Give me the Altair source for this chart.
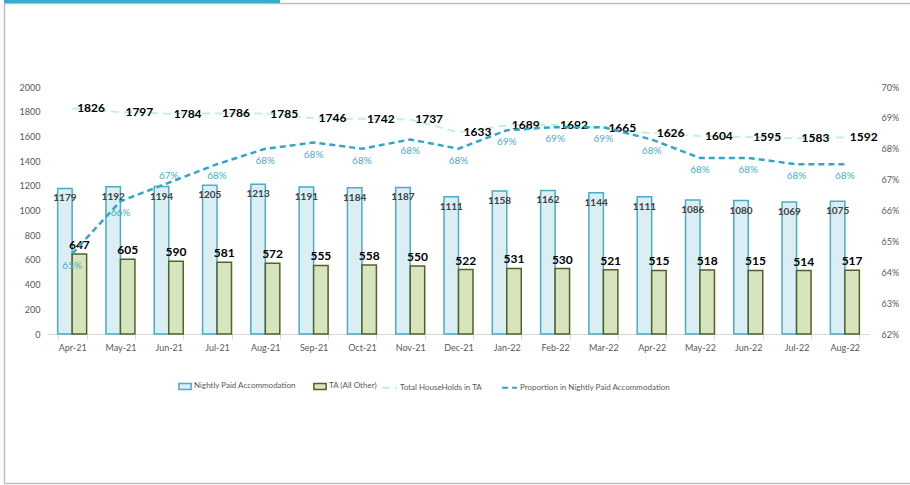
import altair as alt
import pandas as pd

months = ["Apr-21", "May-21", "Jun-21", "Jul-21", "Aug-21", "Sep-21", "Oct-21", "Nov-21",
          "Dec-21", "Jan-22", "Feb-22", "Mar-22", "Apr-22", "May-22", "Jun-22", "Jul-22", "Aug-22"]
nightly = [1179, 1192, 1194, 1205, 1213, 1191, 1184, 1187, 1111, 1158, 1162, 1144, 1111, 1086, 1080, 1069, 1075]
ta_other = [647, 605, 590, 581, 572, 555, 558, 550, 522, 531, 530, 521, 515, 518, 515, 514, 517]
total = [1826, 1797, 1784, 1786, 1785, 1746, 1742, 1737, 1633, 1689, 1692, 1665, 1626, 1604, 1595, 1583, 1592]
proportion = [0.646, 0.663, 0.669, 0.675, 0.680, 0.682, 0.680, 0.683, 0.680, 0.686, 0.687, 0.687,
              0.683, 0.677, 0.677, 0.675, 0.675]

S_N = "Nightly Paid Accommodation"
S_T = "TA (All Other)"
L_T = "Total HouseHolds in TA"
L_P = "Proportion in Nightly Paid Accommodation"

FONT = "Lato"
n = len(months)
bars_df = pd.DataFrame({"Month": months * 2, "Series": [S_N] * n + [S_T] * n, "Value": nightly + ta_other})
total_df = pd.DataFrame({"Month": months, "Value": total, "Line": [L_T] * n})
prop_df = pd.DataFrame({"Month": months, "Prop": proportion, "Line": [L_P] * n})
blank = pd.DataFrame({"k": [0]})

x_enc = alt.X("Month:N", sort=months,
              scale=alt.Scale(paddingInner=0.4, paddingOuter=0.2),
              axis=alt.Axis(title=None, labelAngle=0, tickBand="extent", domainColor="#d9d9d9",
                            tickColor="#d9d9d9", tickSize=5, labelColor="#595959", labelFontSize=9,
                            labelPadding=4, labelFont=FONT))
xo_enc = alt.XOffset("Series:N", sort=[S_N, S_T], scale=alt.Scale(paddingInner=0, paddingOuter=0))
left_axis = alt.Axis(title=None, values=list(range(0, 2001, 200)), format="d", grid=False,
                     domain=False, ticks=False, labelColor="#595959", labelFontSize=9,
                     labelPadding=8, labelFont=FONT)
y_left = alt.Y("Value:Q", scale=alt.Scale(domain=[0, 2000], nice=False), axis=left_axis)

bar_legend = alt.Legend(title=None, orient="none", legendX=130, legendY=292, direction="horizontal",
                        symbolType="M-1,-0.5H1V0.5H-1Z", symbolSize=150, symbolStrokeWidth=1.5,
                        labelFontSize=8, labelColor="#595959", labelFont=FONT, columnPadding=14,
                        labelLimit=400, labelOffset=2)
line_legend = alt.Legend(title=None, orient="none", legendX=333, legendY=292, direction="horizontal",
                         symbolType="stroke", symbolSize=220, symbolStrokeWidth=2,
                         labelFontSize=8, labelColor="#595959", labelFont=FONT, columnPadding=16,
                         labelLimit=400, labelOffset=2)

bars = alt.Chart(bars_df).mark_bar(strokeWidth=1.5).encode(
    x=x_enc, xOffset=xo_enc, y=y_left,
    fill=alt.Fill("Series:N", scale=alt.Scale(domain=[S_N, S_T], range=["#daeef3", "#d7e4bd"]),
                  legend=bar_legend),
    stroke=alt.Stroke("Series:N", scale=alt.Scale(domain=[S_N, S_T], range=["#4bacc6", "#4f6228"]),
                      legend=bar_legend),
)

n_text = alt.Chart(bars_df).transform_filter(alt.datum.Series == S_N).mark_text(
    baseline="middle", dy=10, fontSize=10, fontWeight="bold", color="#404040", font=FONT
).encode(x=x_enc, xOffset=xo_enc, y=y_left, text="Value:Q")

t_text = alt.Chart(bars_df).transform_filter(alt.datum.Series == S_T).mark_text(
    baseline="middle", dy=-9, fontSize=12, fontWeight="bold", color="#000000", font=FONT
).encode(x=x_enc, xOffset=xo_enc, y=y_left, text="Value:Q")

line_color = alt.Color("Line:N", scale=alt.Scale(domain=[L_T, L_P], range=["#c6efe0", "#31a6c9"]),
                       legend=line_legend)
line_dash = alt.StrokeDash("Line:N", scale=alt.Scale(domain=[L_T, L_P], range=[[8, 5], [6, 4]]),
                           legend=line_legend)

total_line = alt.Chart(total_df).mark_line(strokeWidth=2).encode(
    x=x_enc, y=y_left, color=line_color, strokeDash=line_dash)
total_text = alt.Chart(total_df).mark_text(
    align="left", baseline="middle", dx=5, fontSize=12, fontWeight="bold", color="#000000", font=FONT
).encode(x=x_enc, y=y_left, text="Value:Q")

frame = alt.Chart(blank).mark_rect(fillOpacity=0, stroke="#bfbfbf", strokeWidth=1.5).encode(
    x=alt.value(-43.5), x2=alt.value(880), y=alt.value(-83.5), y2=alt.value(396.5))
topbar = alt.Chart(blank).mark_rect(color="#3aabcb").encode(
    x=alt.value(-44), x2=alt.value(232), y=alt.value(-90), y2=alt.value(-84))

y_prop = alt.Y("Prop:Q", scale=alt.Scale(domain=[0.62, 0.70], nice=False, zero=False),
               axis=alt.Axis(title=None, orient="right", format=".0%",
                             values=[0.62, 0.63, 0.64, 0.65, 0.66, 0.67, 0.68, 0.69, 0.70],
                             grid=False, domain=False, ticks=False, labelColor="#595959",
                             labelFontSize=9, labelPadding=12, labelFont=FONT))
prop_line = alt.Chart(prop_df).mark_line(strokeWidth=2.5).encode(
    x=x_enc, y=y_prop, color=line_color, strokeDash=line_dash)
prop_text_below = alt.Chart(prop_df).transform_filter(alt.datum.Month != "Jun-21").mark_text(
    baseline="middle", dy=12, fontSize=10, color="#4bacc6", font=FONT
).encode(x=x_enc, y=y_prop, text=alt.Text("Prop:Q", format=".0%"))
prop_text_above = alt.Chart(prop_df).transform_filter(alt.datum.Month == "Jun-21").mark_text(
    baseline="middle", dy=-7, fontSize=10, color="#4bacc6", font=FONT
).encode(x=x_enc, y=y_prop, text=alt.Text("Prop:Q", format=".0%"))

left = alt.layer(frame, topbar, bars, total_line, n_text, t_text, total_text)
right = alt.layer(prop_line, prop_text_below, prop_text_above)

chart = alt.layer(left, right).resolve_scale(y="independent").properties(
    width=821, height=247,
    autosize=alt.AutoSizeParams(type="none"),
    padding={"left": 48, "top": 87, "right": 41, "bottom": 151},
    background="white",
).configure_view(stroke=None)

chart.save("out.html", embed_options={"renderer": "svg", "actions": False})
